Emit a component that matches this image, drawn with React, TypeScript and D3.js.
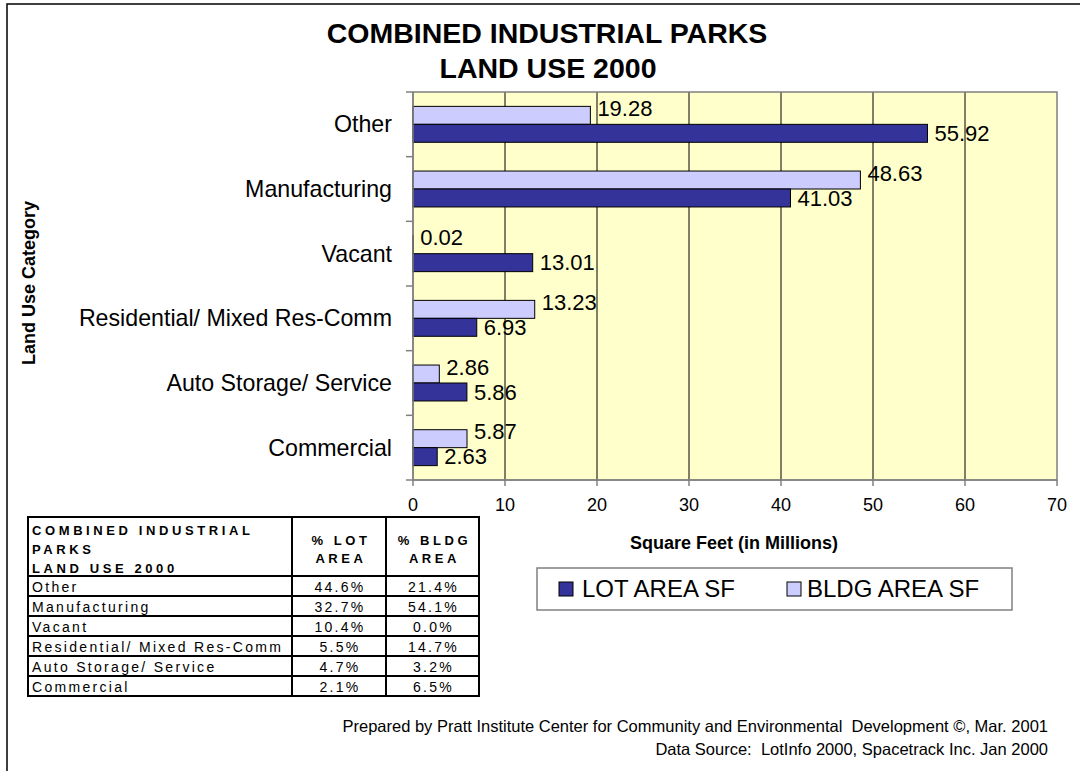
import React from 'react';
import * as d3 from 'd3';

const categories = [
  'Other',
  'Manufacturing',
  'Vacant',
  'Residential/ Mixed Res-Comm',
  'Auto Storage/ Service',
  'Commercial',
];
const lotArea = [55.92, 41.03, 13.01, 6.93, 5.86, 2.63];
const bldgArea = [19.28, 48.63, 0.02, 13.23, 2.86, 5.87];
const pctLot = ['44.6%', '32.7%', '10.4%', '5.5%', '4.7%', '2.1%'];
const pctBldg = ['21.4%', '54.1%', '0.0%', '14.7%', '3.2%', '6.5%'];
const seriesNames = ['BLDG AREA SF', 'LOT AREA SF'];
const xTicks = [0, 10, 20, 30, 40, 50, 60, 70];

const FONT = "'Liberation Sans', Arial, sans-serif";
const DARK = '#333399';
const LIGHT = '#CCCCFF';

const App = () => {
  const plot = { left: 413, right: 1057, top: 92, bottom: 480 };

  const x = d3.scaleLinear().domain([0, 70]).range([plot.left, plot.right]);
  const y = d3.scaleBand().domain(categories).range([plot.top, plot.bottom]);
  const inner = d3
    .scaleBand()
    .domain(seriesNames)
    .range([0, y.bandwidth()])
    .paddingOuter(0.8);

  const rows = categories.map((c, i) => ({
    cat: c,
    lot: lotArea[i],
    bldg: bldgArea[i],
  }));

  // table layout
  const tbl = { left: 28, c1: 292, c2: 386, right: 479, top: 517, head: 576, row: 20 };
  const tblBottom = tbl.head + tbl.row * categories.length;

  return (
    <svg
      width={1080}
      height={771}
      style={{ position: 'absolute', left: 0, top: 0, background: '#fff' }}
      fontFamily={FONT}
    >
      <rect x={7} y={4} width={1090} height={800} fill="#fff" stroke="#000" strokeWidth={1.5} />

      <text x={547} y={43} textAnchor="middle" fontSize={28.5} fontWeight="bold">
        COMBINED INDUSTRIAL PARKS
      </text>
      <text x={548} y={78} textAnchor="middle" fontSize={28.5} fontWeight="bold">
        LAND USE 2000
      </text>

      {/* plot area */}
      <rect
        x={plot.left}
        y={plot.top}
        width={plot.right - plot.left}
        height={plot.bottom - plot.top}
        fill="#FFFFCC"
      />
      {xTicks.slice(1, -1).map((t) => (
        <line key={t} x1={x(t)} x2={x(t)} y1={plot.top} y2={plot.bottom} stroke="#000" strokeWidth={1} />
      ))}
      <rect
        x={plot.left}
        y={plot.top}
        width={plot.right - plot.left}
        height={plot.bottom - plot.top}
        fill="none"
        stroke="#808080"
        strokeWidth={1.5}
      />

      {/* bars */}
      {rows.map((d) => {
        const y0 = y(d.cat)!;
        const yb = y0 + inner('BLDG AREA SF')!;
        const yl = y0 + inner('LOT AREA SF')!;
        const h = inner.bandwidth();
        return (
          <g key={d.cat}>
            <rect x={x(0)} y={yb} width={x(d.bldg) - x(0)} height={h} fill={LIGHT} stroke="#000" strokeWidth={1} />
            <rect x={x(0)} y={yl} width={x(d.lot) - x(0)} height={h} fill={DARK} stroke="#000" strokeWidth={1} />
            <text x={x(d.bldg) + 7} y={yb + h / 2 - 7} dy="0.35em" fontSize={22}>
              {d.bldg.toFixed(2)}
            </text>
            <text x={x(d.lot) + 7} y={yl + h / 2} dy="0.35em" fontSize={22}>
              {d.lot.toFixed(2)}
            </text>
          </g>
        );
      })}

      {/* y axis */}
      <line x1={plot.left} x2={plot.left} y1={plot.top} y2={plot.bottom} stroke="#808080" strokeWidth={1.5} />
      {[...categories.map((c) => y(c)!), plot.bottom].map((v, i) => (
        <line key={i} x1={plot.left - 7} x2={plot.left} y1={v} y2={v} stroke="#808080" strokeWidth={1.5} />
      ))}
      {categories.map((c) => (
        <text
          key={c}
          x={392}
          y={y(c)! + y.bandwidth() / 2}
          dy="0.35em"
          textAnchor="end"
          fontSize={23.2}
        >
          {c}
        </text>
      ))}
      <text transform="translate(35,283) rotate(-90)" textAnchor="middle" fontSize={18} fontWeight="bold">
        Land Use Category
      </text>

      {/* x axis */}
      <line x1={plot.left} x2={plot.right} y1={plot.bottom} y2={plot.bottom} stroke="#808080" strokeWidth={1.5} />
      {xTicks.map((t) => (
        <g key={t}>
          <line x1={x(t)} x2={x(t)} y1={plot.bottom} y2={plot.bottom + 6} stroke="#808080" strokeWidth={1.5} />
          <text x={x(t)} y={511} textAnchor="middle" fontSize={18}>
            {t}
          </text>
        </g>
      ))}
      <text x={734} y={549} textAnchor="middle" fontSize={18} fontWeight="bold">
        Square Feet (in Millions)
      </text>

      {/* legend */}
      <rect x={537} y={568} width={475} height={42} fill="#fff" stroke="#808080" strokeWidth={1.5} />
      <rect x={559} y={582} width={14} height={14} fill={DARK} stroke="#000" strokeWidth={1} />
      <text x={582} y={597} fontSize={24}>LOT AREA SF</text>
      <rect x={787} y={582} width={14} height={14} fill={LIGHT} stroke="#000" strokeWidth={1} />
      <text x={807} y={597} fontSize={24}>BLDG AREA SF</text>

      {/* table */}
      <g stroke="#000" strokeWidth={2}>
        <rect x={tbl.left} y={tbl.top} width={tbl.right - tbl.left} height={tblBottom - tbl.top} fill="#fff" />
        <line x1={tbl.c1} x2={tbl.c1} y1={tbl.top} y2={tblBottom} />
        <line x1={tbl.c2} x2={tbl.c2} y1={tbl.top} y2={tblBottom} />
        {categories.map((c, i) => (
          <line key={c} x1={tbl.left} x2={tbl.right} y1={tbl.head + tbl.row * i} y2={tbl.head + tbl.row * i} />
        ))}
      </g>
      <g fontSize={13} fontWeight="bold" letterSpacing={3.6}>
        <text x={32} y={535}>COMBINED INDUSTRIAL</text>
        <text x={32} y={554}>PARKS</text>
        <text x={32} y={573}>LAND USE 2000</text>
        <text x={(tbl.c1 + tbl.c2) / 2 + 2} y={545} textAnchor="middle">% LOT</text>
        <text x={(tbl.c1 + tbl.c2) / 2 + 2} y={563} textAnchor="middle">AREA</text>
        <text x={(tbl.c2 + tbl.right) / 2 + 2} y={545} textAnchor="middle">% BLDG</text>
        <text x={(tbl.c2 + tbl.right) / 2 + 2} y={563} textAnchor="middle">AREA</text>
      </g>
      <g fontSize={14} letterSpacing={2.3}>
        {categories.map((c, i) => {
          const base = tbl.head + tbl.row * i + 16;
          return (
            <g key={c}>
              <text x={32} y={base}>{c}</text>
              <text x={(tbl.c1 + tbl.c2) / 2 + 1} y={base} textAnchor="middle">{pctLot[i]}</text>
              <text x={(tbl.c2 + tbl.right) / 2 + 1} y={base} textAnchor="middle">{pctBldg[i]}</text>
            </g>
          );
        })}
      </g>

      {/* footer */}
      <text x={1048} y={732} textAnchor="end" fontSize={16.5}>
        Prepared by Pratt Institute Center for Community and Environmental{'\u00a0\u00a0'}Development ©, Mar. 2001
      </text>
      <text x={1048} y={755} textAnchor="end" fontSize={16.5}>
        Data Source:{'\u00a0\u00a0'}LotInfo 2000, Spacetrack Inc. Jan 2000
      </text>
    </svg>
  );
};

export default App;
